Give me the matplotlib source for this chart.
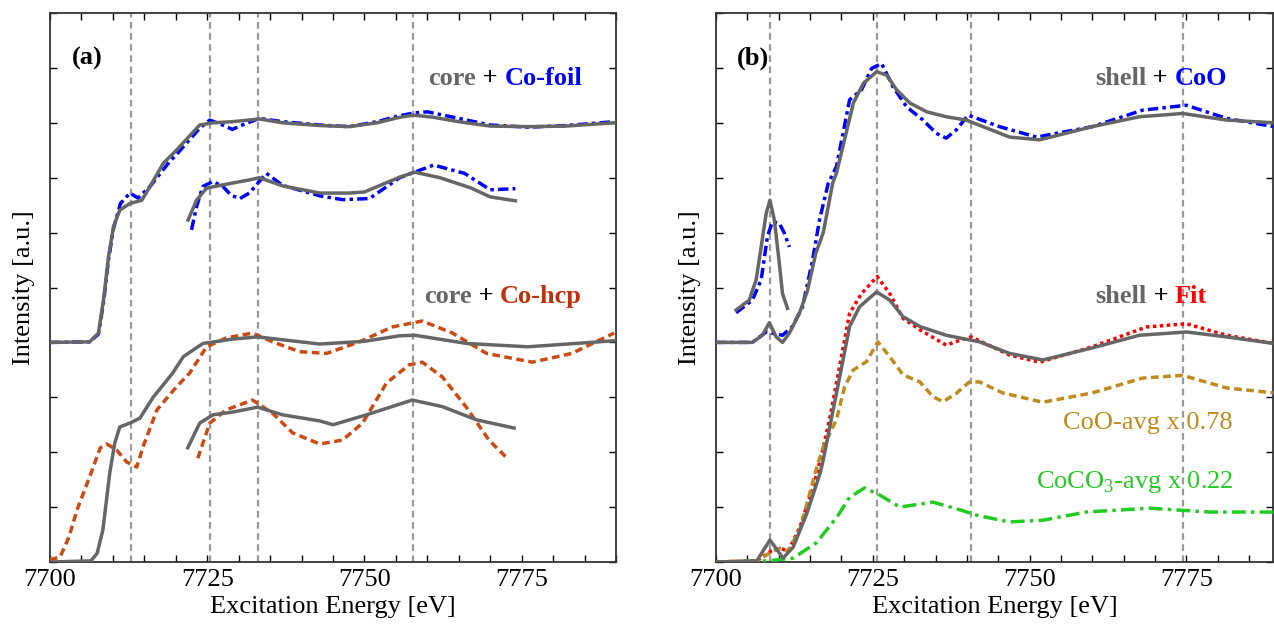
import matplotlib
matplotlib.use("Agg")
import matplotlib.pyplot as plt
from matplotlib.ticker import MultipleLocator

plt.rcParams['font.family'] = ['Liberation Serif', 'DejaVu Serif']
plt.rcParams['mathtext.fontset'] = 'custom'
plt.rcParams['mathtext.rm'] = 'Liberation Serif'

GRAY = '#666666'
BLUE = '#0000ff'
ORANGE = '#cc4a12'
RED = '#ff0000'
GOLD = '#c08a1c'
GREEN = '#22cc22'

# ---- panel (a) ----
core_up_x = [7700, 7706.3, 7707.7, 7708.5, 7709.3, 7710.1, 7711.1, 7712.7, 7714.6, 7715.9,
             7718, 7720.1, 7723.8, 7725.9, 7729, 7733.3, 7737, 7742.9, 7747.6, 7752,
             7755.6, 7757.8, 7761, 7765, 7770, 7776, 7782, 7789.7]
core_up_y = [4.0, 4.01, 4.17, 4.77, 5.56, 6.11, 6.41, 6.53, 6.59, 6.84,
             7.26, 7.5, 7.96, 8.0, 8.02, 8.07, 8.0, 7.95, 7.93, 8.0,
             8.1, 8.14, 8.1, 8.02, 7.94, 7.93, 7.94, 8.0]
foil_x = [7700, 7706.3, 7707.7, 7708.5, 7709.3, 7710.1, 7711.2, 7712.7, 7714, 7715.9,
          7719, 7720.1, 7723.8, 7725.4, 7727, 7729, 7731, 7733.3, 7737, 7742.9,
          7747.6, 7752, 7755.6, 7758, 7760, 7765, 7770, 7776, 7782, 7789.7]
foil_y = [4.0, 4.01, 4.15, 4.72, 5.5, 6.08, 6.53, 6.72, 6.63, 6.84,
          7.29, 7.42, 7.9, 8.05, 7.98, 7.88, 7.98, 8.08, 8.02, 7.96,
          7.93, 8.02, 8.13, 8.18, 8.2, 8.08, 7.96, 7.92, 7.95, 8.02]

core_ins1_x = [7721.96, 7723.3, 7724.9, 7727.5, 7731.7, 7733.3, 7737, 7742.9, 7747.6, 7750,
               7755.6, 7758, 7762, 7767, 7770, 7774]
core_ins1_y = [6.23, 6.59, 6.81, 6.87, 6.96, 7.0, 6.85, 6.72, 6.72, 6.74,
               7.01, 7.1, 7.0, 6.81, 6.65, 6.58]
foil_ins_x = [7722.5, 7723.3, 7724.3, 7725.9, 7727.5, 7728.8, 7730.2, 7731.7, 7734.4, 7737,
              7742.9, 7746.5, 7750.8, 7755.6, 7761, 7765.9, 7770, 7774]
foil_ins_y = [6.05, 6.47, 6.84, 6.93, 6.84, 6.68, 6.62, 6.72, 7.08, 6.86,
              6.67, 6.6, 6.62, 7.0, 7.23, 7.08, 6.78, 6.8]

core_lo_x = [7700, 7706.5, 7707.5, 7708.4, 7709.5, 7710.3, 7711.1, 7712.7, 7714.3, 7716.4,
             7719.5, 7721.2, 7724.3, 7729, 7733, 7742.9, 7750, 7755.6, 7758, 7766.3,
             7776, 7789.7]
core_lo_y = [0.0, 0.02, 0.16, 0.58, 1.62, 2.17, 2.46, 2.53, 2.62, 3.0,
             3.44, 3.74, 3.98, 4.06, 4.1, 3.97, 4.02, 4.12, 4.13, 3.98,
             3.92, 4.03]
hcp_x = [7700, 7701.6, 7703, 7704.3, 7706.3, 7708, 7709, 7710.6, 7712.2, 7713.8,
         7714.8, 7717, 7720.1, 7722.2, 7724.9, 7728, 7732.2, 7735.4, 7739.7, 7744,
         7749.2, 7754.4, 7759.2, 7764, 7769.4, 7776.7, 7783, 7789.7]
hcp_y = [0.04, 0.09, 0.45, 0.95, 1.55, 2.08, 2.15, 2.04, 1.82, 1.73,
         2.1, 2.77, 3.19, 3.44, 3.92, 4.08, 4.17, 4.01, 3.83, 3.8,
         4.01, 4.28, 4.39, 4.17, 3.8, 3.64, 3.8, 4.17]
core_ins2_x = [7721.9, 7723.8, 7725.9, 7729, 7733, 7737, 7742.9, 7745, 7750.3, 7757.6,
               7762.4, 7767.8, 7773.8]
core_ins2_y = [2.08, 2.53, 2.68, 2.73, 2.82, 2.68, 2.57, 2.5, 2.68, 2.95,
               2.83, 2.59, 2.44]
hcp_ins_x = [7723.5, 7725.4, 7728, 7732.2, 7735.4, 7738.6, 7742.9, 7746.5, 7749.7, 7753.5,
             7757.1, 7759.2, 7762.4, 7766.2, 7769.8, 7772.7]
hcp_ins_y = [1.89, 2.53, 2.77, 2.95, 2.71, 2.35, 2.15, 2.22, 2.53, 3.26,
             3.59, 3.64, 3.37, 2.82, 2.22, 1.89]

vlines_a = [7712.9, 7725.4, 7733.0, 7757.8]

# ---- panel (b) ----
shell_up_x = [7700, 7705.8, 7707.4, 7708.5, 7709.6, 7710.6, 7711.7, 7713.3, 7714.6, 7715.9,
              7717.1, 7718.6, 7719.2, 7721.9, 7723.5, 7725.6, 7727.2, 7728.8, 7730.9, 7733.6,
              7736.7, 7739.9, 7746.8, 7751.6, 7760, 7767.5, 7774.4, 7781.4, 7789]
shell_up_y = [4.0, 4.0, 4.13, 4.36, 4.1, 4.0, 4.17, 4.53, 4.95, 5.62,
              6.0, 6.9, 7.08, 8.36, 8.72, 8.93, 8.87, 8.6, 8.36, 8.2,
              8.11, 8.05, 7.74, 7.69, 7.93, 8.11, 8.17, 8.05, 8.0]
coo_x = [7700, 7705.8, 7708, 7710.6, 7712.2, 7713.8, 7715.4, 7716.5, 7717.9, 7719.2,
         7721.3, 7723.2, 7724.8, 7726.4, 7728.2, 7730.4, 7733, 7735.1, 7736.7, 7738.3,
         7740.2, 7745.2, 7751.1, 7760, 7768, 7775, 7781.4, 7789]
coo_y = [4.0, 4.0, 4.19, 4.13, 4.29, 4.65, 5.5, 6.23, 6.9, 7.2,
         8.42, 8.6, 8.99, 9.08, 8.66, 8.29, 8.05, 7.81, 7.72, 7.87,
         8.14, 7.93, 7.74, 7.93, 8.23, 8.32, 8.08, 7.93]
shell_pre_x = [7703.2, 7705.3, 7706.4, 7707.2, 7708, 7708.6, 7709.3, 7710.1, 7710.6, 7711.4]
shell_pre_y = [4.59, 4.77, 5.14, 5.74, 6.35, 6.59, 6.23, 5.44, 4.89, 4.62]
coo_pre_x = [7703.2, 7705.8, 7707.2, 7708.2, 7709, 7710.1, 7710.9, 7711.7]
coo_pre_y = [4.54, 4.77, 5.14, 5.93, 6.2, 6.17, 5.99, 5.74]

shell_lo_x = [7700, 7706.5, 7708.6, 7710.7, 7712.3, 7714.5, 7716.6, 7717.1, 7719.2, 7721.3,
              7722.9, 7725.6, 7727.7, 7729.8, 7732.5, 7736.7, 7742, 7746.8, 7752.1, 7760,
              7767.5, 7775, 7781.4, 7789]
shell_lo_y = [0.0, 0.02, 0.4, 0.07, 0.27, 0.89, 1.62, 1.86, 3.07, 4.29,
              4.65, 4.92, 4.77, 4.47, 4.29, 4.13, 4.01, 3.8, 3.68, 3.9,
              4.13, 4.19, 4.1, 3.98]
fit_x = [7700, 7706.5, 7708.8, 7710.2, 7711.5, 7713.4, 7715.5, 7716.9, 7718.2, 7719.7,
         7721.3, 7723.2, 7725.7, 7727.7, 7729.8, 7732.5, 7736.7, 7738.9, 7740.7, 7746.8,
         7751.6, 7760, 7768.6, 7775, 7781.4, 7789]
fit_y = [0.0, 0.02, 0.2, 0.25, 0.2, 0.64, 1.37, 1.98, 2.65, 3.56,
         4.53, 4.89, 5.2, 4.89, 4.44, 4.23, 3.95, 4.04, 4.1, 3.77,
         3.64, 3.92, 4.28, 4.34, 4.13, 3.98]
cooavg_x = [7700, 7706.5, 7708.8, 7710.2, 7711.5, 7713.4, 7716, 7717.1, 7719.2, 7720.5,
            7721.9, 7724, 7725.8, 7727.7, 7729.8, 7732.5, 7734.6, 7736.2, 7738.3, 7740.4,
            7742, 7745.7, 7752.1, 7760, 7768, 7774.4, 7781.4, 7789]
cooavg_y = [0.0, 0.02, 0.18, 0.25, 0.2, 0.6, 1.7, 2.1, 2.59, 3.19,
            3.5, 3.65, 4.01, 3.74, 3.41, 3.28, 3.01, 2.92, 3.07, 3.28,
            3.28, 3.08, 2.91, 3.08, 3.35, 3.4, 3.17, 3.08]
coco3_x = [7700, 7708, 7712.3, 7716, 7719.3, 7721.3, 7723.7, 7726.1, 7729.3, 7734.6,
           7738.9, 7741.6, 7746.8, 7752.1, 7759, 7769.1, 7778.7, 7789]
coco3_y = [0.0, 0.02, 0.07, 0.35, 0.82, 1.18, 1.35, 1.22, 1.0, 1.09,
           0.95, 0.85, 0.73, 0.76, 0.91, 0.98, 0.91, 0.91]

vlines_b = [7708.6, 7725.6, 7740.6, 7774.4]

fig = plt.figure(figsize=(12.74, 6.25), dpi=100)
ax1 = fig.add_axes([50 / 1274, 63 / 625, 566 / 1274, 549 / 625])
ax2 = fig.add_axes([716 / 1274, 63 / 625, 557 / 1274, 549 / 625])

lw = 2.5
dashdot = (0, (3, 1.2, 1, 1.2))
dashed = (0, (2.2, 1.3))
ax1.plot(core_ins1_x, core_ins1_y, color=GRAY, lw=lw, zorder=4)
ax1.plot(foil_ins_x, foil_ins_y, color=BLUE, lw=lw, ls=dashdot, zorder=3)
ax1.plot(foil_x, foil_y, color=BLUE, lw=lw, ls=dashdot, zorder=3)
ax1.plot(core_up_x, core_up_y, color=GRAY, lw=lw, zorder=4)
ax1.plot(hcp_x, hcp_y, color=ORANGE, lw=lw, ls=dashed, zorder=3)
ax1.plot(core_lo_x, core_lo_y, color=GRAY, lw=lw, zorder=4)
ax1.plot(hcp_ins_x, hcp_ins_y, color=ORANGE, lw=lw, ls=dashed, zorder=3)
ax1.plot(core_ins2_x, core_ins2_y, color=GRAY, lw=lw, zorder=4)

ax2.plot(coo_pre_x, coo_pre_y, color=BLUE, lw=lw, ls=dashdot, zorder=3)
ax2.plot(shell_pre_x, shell_pre_y, color=GRAY, lw=lw, zorder=4)
ax2.plot(coo_x, coo_y, color=BLUE, lw=lw, ls=dashdot, zorder=3)
ax2.plot(shell_up_x, shell_up_y, color=GRAY, lw=lw, zorder=4)
ax2.plot(fit_x, fit_y, color=RED, lw=lw, ls=(0, (1, 1)), zorder=3)
ax2.plot(shell_lo_x, shell_lo_y, color=GRAY, lw=lw, zorder=4)
ax2.plot(cooavg_x, cooavg_y, color=GOLD, lw=lw, ls=dashed, zorder=3)
ax2.plot(coco3_x, coco3_y, color=GREEN, lw=lw, ls=(0, (4, 1.5, 1, 1.5)), zorder=3)

for ax, vl in ((ax1, vlines_a), (ax2, vlines_b)):
    for v in vl:
        ax.axvline(v, color='#999999', lw=1.6, ls=(0, (3, 2)), zorder=1)
    ax.set_xlim(7700, 7790)
    ax.set_ylim(0, 10)
    ax.xaxis.set_major_locator(MultipleLocator(25))
    ax.xaxis.set_minor_locator(MultipleLocator(5))
    ax.yaxis.set_major_locator(MultipleLocator(1))
    ax.set_yticklabels([])
    ax.tick_params(which='both', direction='in', top=True, right=True, length=5,
                   width=1, labelsize=19, colors='black', pad=5)
    for s in ax.spines.values():
        s.set_linewidth(1.3)
        s.set_color('#333333')
    ax.set_xlabel('Excitation Energy [eV]', fontsize=19, labelpad=4)
    ax.set_ylabel('Intensity [a.u.]', fontsize=19, labelpad=6)

ax2.set_xlim(7700, 7788.8)

bold = dict(fontsize=19, fontweight='bold')
ax1.text(0.038, 0.918, '(a)', transform=ax1.transAxes, va='center', **bold)
ax2.text(0.038, 0.918, '(b)', transform=ax2.transAxes, va='center', **bold)


def label(ax, x, y, parts):
    t = None
    for txt, col in reversed(parts):
        if t is None:
            t = ax.text(x, y, txt, color=col, ha='right', va='center', **bold)
        else:
            t = ax.annotate(txt, xycoords=t, xy=(0, 0.5), va='center', ha='right',
                            color=col, **bold)
    return t


label(ax1, 7784.6, 8.8, [('core', GRAY), (' + ', 'black'), ('Co-foil', BLUE)])
label(ax1, 7784.6, 4.83, [('core', GRAY), (' + ', 'black'), ('Co-hcp', '#c0300a')])
label(ax2, 7781.5, 8.8, [('shell', GRAY), (' + ', 'black'), ('CoO', BLUE)])
label(ax2, 7778.3, 4.83, [('shell', GRAY), (' + ', 'black'), ('Fit', RED)])
ax2.text(7782.3, 2.53, 'CoO-avg x 0.78', color=GOLD, fontsize=19, ha='right', va='center')
ax2.text(7782.6, 1.46, 'CoCO$_3$-avg x 0.22', color=GREEN, fontsize=19, ha='right', va='center')

fig.savefig('out.png', dpi=100)
